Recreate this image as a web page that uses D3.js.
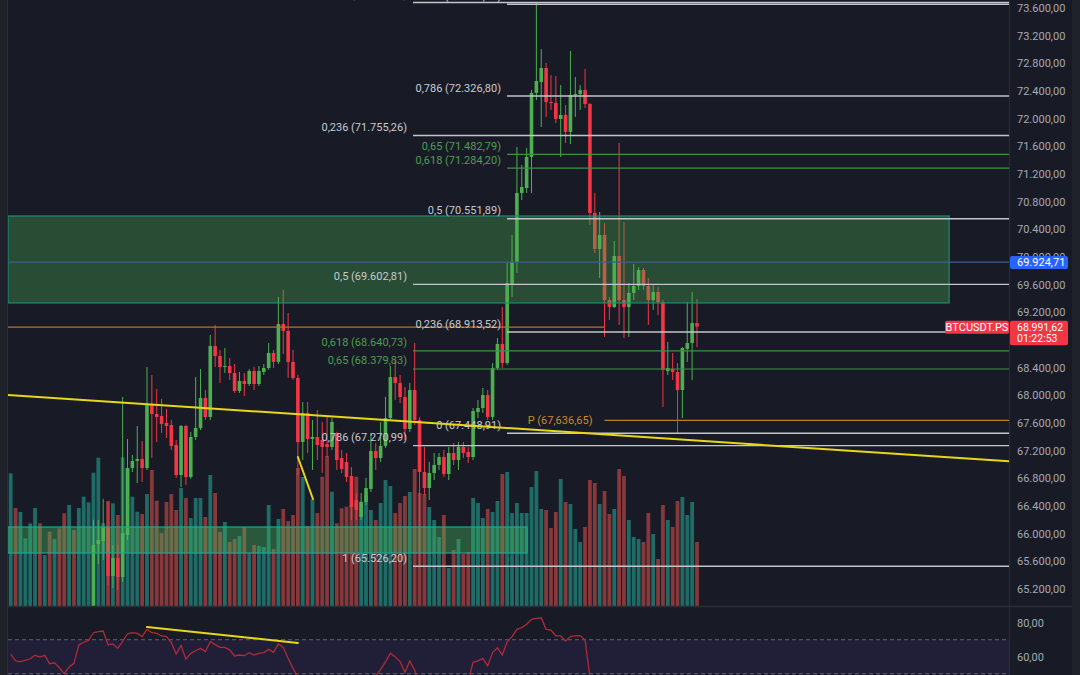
<!DOCTYPE html>
<html><head><meta charset="utf-8">
<script src="https://cdn.jsdelivr.net/npm/d3@7"></script>
<style>html,body{margin:0;padding:0;background:#181b26;overflow:hidden}svg{display:block}text{font-family:Roboto,"Noto Sans",sans-serif}</style>
</head><body><svg id="c" width="1080" height="675"></svg>
<script>
// ---------------- DATA ----------------
const opens = [64420,64480,64380,64440,64490,64540,64610,64520,64570,64410,64450,64320,64150,64300,64220,64680,64820,64940,65848,65891,
66094,65385,65646,65371,65978,66947,67049,67078,66947,67858,67728,67699,67598,67569,67280,66846,67555,66817,67396,67526,
67960,67685,68712,68567,68408,68422,68321,68061,68206,68162,68350,68162,68336,68394,68611,68481,69030,68929,68481,68249,
67323,67743,67367,67396,67352,67294,67251,67450,67092,67034,66832,66484,66239,66456,66644,67193,67092,67266,67670,68263,
68177,67974,67511,68075,67642,66889,66658,66875,66991,67106,66861,67164,67063,67251,67179,67106,67757,67815,68003,67685,
68394,68741,68466,69594,69927,70925,70997,71445,72371,72530,72732,72240,72226,71995,72053,71807,72342,72356,72414,72212,
70635,70115,70317,69377,69276,70013,69377,69276,69479,69580,69811,69580,69377,69493,69348,68350,68379,68336,68075,68669,
68755,69044];
const highs = [64520,64500,64470,64520,64560,64640,64630,64600,64580,64480,64460,64340,64330,64320,64720,64880,64940,66200,66195,66499,
66456,65834,65834,67974,67367,67135,67555,67338,68408,68292,68090,67945,67801,67642,67352,67569,67569,67468,68263,68379,
68075,68871,69016,68654,68683,68538,68451,68336,68321,68379,68408,68422,68451,68755,68654,69420,69522,69189,68654,68292,
67902,67902,67642,67786,67613,67685,67671,67470,67208,67164,66962,66586,66586,66803,67454,67309,67613,67974,68423,68509,
68292,68119,68177,68755,67685,67251,67034,67164,67164,67208,67251,67309,67323,67323,67251,67815,67931,68104,68075,68466,
68827,69276,69912,70317,71590,71330,71575,72414,73679.4,73007,72805,72631,72617,72486,72197,72978,72602,72486,72718,72226,
70925,70650,70491,69420,70230,71648,70505,69623,69898,69854,69840,69695,69594,69565,69377,68770,68611,68466,68697,69348,
69493,69392];
const lows = [64350,64330,64350,64400,64450,64500,64480,64490,64380,64370,64290,64100,64120,64180,64200,64640,64780,64900,65559,65617,
65255,65212,65183,65298,65906,66889,66730,66745,66918,67092,67323,67454,67381,67208,66803,66672,66701,66788,67352,67497,
67642,67642,68408,68177,68321,68220,68032,68032,67989,68133,68075,68133,68292,68365,68394,68451,68596,68249,68220,66846,
67063,67164,66918,67063,66875,67106,67208,66918,66875,66745,66195,66195,66195,66412,66600,66918,67034,67237,67642,67931,
67887,67352,67468,67569,65526.2,66557,66484,66774,66918,66817,66774,66991,66918,67092,67020,67063,67670,67743,67642,67642,
68365,68394,68437,69420,69767,70823,70925,70925,72269,71879,72024,72125,71937,71445,71648,71633,72024,72125,72154,70462,
70057,69695,68842,69088,69261,69015,68827,68842,69377,69522,69522,69015,69233,69160,67829,68292,68220,67454,67670,68481,
68220,68697];
const closes = [64480,64380,64440,64490,64540,64610,64520,64570,64410,64450,64320,64150,64300,64220,64680,64820,64930,65834,65906,66094,
65385,65646,65371,66007,66947,67049,67078,66947,67858,67728,67685,67584,67555,67266,66846,67555,66817,67396,67526,67960,
67685,68712,68567,68408,68422,68321,68061,68206,68162,68350,68162,68350,68394,68611,68481,69030,68929,68481,68249,67323,
67743,67367,67396,67280,67251,67251,67613,67063,66933,66817,66383,66340,66456,66658,67193,67092,67266,67670,68263,68177,
67974,67511,68075,67642,66889,66658,66875,66991,67106,66861,67164,67063,67251,67164,67106,67772,67815,68003,67685,68394,
68741,68466,69622,69927,70925,71011,71445,72371,72544,72732,72240,72226,71995,72053,71807,72342,72356,72414,72212,70635,
70115,70317,69377,69276,70013,69377,69276,69479,69580,69811,69580,69377,69493,69348,68365,68394,68336,68075,68683,68755,
69044,68991.62];
const volumes = [1327,980,940,677,827,980,827,510,743,670,777,927,1010,760,980,1093,1037,1333,1483,827,
1050,1027,910,1487,1377,1093,943,920,1120,1360,1053,730,1040,1120,960,1180,1080,880,1080,1080,
890,1310,1130,740,840,640,670,700,790,530,610,600,590,1010,570,870,970,850,910,1380,
1290,800,1067,930,1293,1500,1143,827,977,993,1010,1293,1043,1110,960,860,1030,1260,1200,930,
1030,1100,1140,1370,1130,1120,990,860,690,910,380,560,670,520,540,1080,1030,880,970,940,
1050,1320,1340,930,1030,930,930,1190,1350,970,960,780,940,1270,1040,1020,770,640,790,1260,
1230,1020,1150,920,970,1370,1300,860,690,670,640,930,720,470,1010,860,790,1050,1090,910,
1040,640];
const rsi = [61.5,57.5,57.1,57.8,58.8,60.8,59.8,60.8,55.9,56.4,
53.6,50.0,54.0,56.1,67.0,68.5,69.6,74.1,74.7,75.1,
67.0,67.5,64.9,69.0,73.5,74.1,73.7,71.8,76.1,74.1,
73.7,72.2,71.8,68.3,61.6,66.5,58.5,62.0,63.5,64.9,
63.0,68.8,67.1,65.5,65.5,63.9,60.4,61.0,60.6,62.4,
61.0,62.0,62.4,64.3,62.6,67.5,65.5,59.0,53.2,47.5,
46.5,42.0,43.0,41.0,40.0,40.0,44.0,40.0,37.0,35.0,
31.0,30.0,34.0,37.0,44.0,48.5,52.5,57.0,62.0,60.0,
57.1,50.8,57.5,52.0,42.0,41.0,43.0,44.0,45.0,43.0,
46.0,45.0,47.0,46.0,45.5,56.7,57.5,59.0,54.7,62.4,
65.3,61.0,68.8,71.8,76.1,77.1,79.1,82.0,82.6,82.9,
76.1,75.7,72.2,72.2,69.2,71.8,72.2,72.4,69.8,48.0,
42.0,44.0,38.0,37.0,44.0,38.0,37.5,40.0,41.0,43.0,
40.5,38.0,39.5,37.5,30.0,31.0,30.5,28.0,36.0,37.0,
41.0,40.0];
const priceTicks = [73600,73200,72800,72400,72000,71600,71200,70800,70400,70000,69600,69200,68800,68400,68000,67600,67200,66800,66400,66000,65600,65200];
const rsiTicks = [80,60];
const rsiBands = [70,50];
// Fibonacci drawings (ratio label, price) and their start candle
const fib1Ratios = ["0","0,236","0,5","0,618","0,65","0,786","1"];
const fib1Prices = [73679.40,71755.26,69602.81,68640.73,68379.83,67270.99,65526.20];
const fib1Start = 82.66;
const fib2Ratios = ["1","0,786","0,65","0,618","0,5","0,236","0"];
const fib2Prices = [73654.87,72326.80,71482.79,71284.20,70551.89,68913.52,67448.91];
const fib2Start = 101.97;
const greenRatios = ["0,618","0,65"];
// other drawings
const zoneUpper = {top:70592, bottom:69334, end:192.8};
const zoneLower = {top:66094, bottom:65718, end:106.1};
const blueLevel = 69924.71;
const orangeLevel = {price:68985, end:122};
const pivotLevel = {price:67636.65, start:122, label:"P (67,636,65)"};
const trendMain = [[0,68000],[141,67343]];
const trendSmall = [[59,67106],[62.1,66499]];
const trendRsi = [[28,77.5],[59,68.1]];
const symbol = "BTCUSDT.PS";
const lastPrice = 68991.62;
const countdown = "01:22:53";

// ---------------- LAYOUT ----------------
const W=1080,H=675, PL=8, PR=1009, MT=0, MB=606, RT=607, RB=675, AX=1072;
const svg = d3.select("#c");
const loc = d3.formatLocale({decimal:",",thousands:".",grouping:[3],currency:["",""]});
const fmt = loc.format(",.2f");

const x = d3.scaleLinear().domain([0,141]).range([10.7,697]);
const y = d3.scaleLinear().domain([65200,73600]).range([588.8,8]);
const yVol = d3.scaleLinear().domain([0,d3.max(volumes)]).range([MB,456]);
const yRsi = d3.scaleLinear().domain([60,80]).range([656.7,622.7]);

// backgrounds
svg.append("rect").attr("width",W).attr("height",H).attr("fill","#181b26");
svg.append("rect").attr("x",0).attr("y",0).attr("width",PL).attr("height",H).attr("fill","#1f222b");
svg.append("rect").attr("x",AX).attr("y",0).attr("width",W-AX).attr("height",H).attr("fill","#1f222b");

const defs = svg.append("defs");
defs.append("clipPath").attr("id","cm").append("rect").attr("x",PL).attr("y",MT).attr("width",PR-PL).attr("height",MB-MT);
defs.append("clipPath").attr("id","cr").append("rect").attr("x",PL).attr("y",RT).attr("width",PR-PL).attr("height",RB-RT);

const main = svg.append("g").attr("clip-path","url(#cm)");
const idx = d3.range(closes.length);
const up = i => closes[i] >= opens[i];

// volume
main.append("g").selectAll("rect").data(idx).join("rect")
  .attr("x",i=>x(i)-1.9).attr("width",3.8)
  .attr("y",i=>yVol(volumes[i])).attr("height",i=>MB-yVol(volumes[i]))
  .attr("fill",i=>up(i)?"#1f6b66":"#86383b");

// candles
const cg = main.append("g");
cg.selectAll("line").data(idx).join("line")
  .attr("x1",i=>x(i)).attr("x2",i=>x(i))
  .attr("y1",i=>y(highs[i])).attr("y2",i=>y(lows[i]))
  .attr("stroke",i=>up(i)?"#4caf50":"#f23645").attr("stroke-width",1);
cg.selectAll("rect").data(idx).join("rect")
  .attr("x",i=>x(i)-1.8).attr("width",3.6)
  .attr("y",i=>y(Math.max(opens[i],closes[i])))
  .attr("height",i=>Math.max(1,Math.abs(y(opens[i])-y(closes[i]))))
  .attr("fill",i=>up(i)?"#4caf50":"#f23645");

// zones
function zone(z, fill, stroke){
  main.append("rect").attr("x",PL).attr("y",y(z.top)).attr("width",x(z.end)-PL)
   .attr("height",y(z.bottom)-y(z.top)).attr("fill",fill).attr("stroke",stroke).attr("stroke-width",1.2);
}
zone(zoneUpper,"rgba(76,175,80,0.34)","#1c8a74");
zone(zoneLower,"rgba(70,190,100,0.38)","#23a58f");

// horizontal lines
function hline(p, x1, x2, color, w){
  main.append("line").attr("x1",x1).attr("x2",x2).attr("y1",y(p)).attr("y2",y(p))
    .attr("stroke",color).attr("stroke-width",w);
}
hline(blueLevel, PL, PR, "#3a5f92", 1.2);
hline(orangeLevel.price, PL, x(orangeLevel.end), "#b8702c", 1.2);
hline(pivotLevel.price, x(pivotLevel.start), PR, "#c07a22", 1.2);
main.append("text").attr("x",x(pivotLevel.start)-12).attr("y",y(pivotLevel.price)).attr("dy","0.35em")
  .attr("text-anchor","end").attr("font-size",11).attr("fill","#c98a2c").text(pivotLevel.label);

function fib(ratios, prices, start){
  const sx = x(start);
  ratios.forEach((r,k)=>{
    const green = greenRatios.includes(r);
    hline(prices[k], sx, PR, green?"#3f8f44":"#c3c5cb", green?1.1:1.4);
    main.append("text").attr("x",sx-6).attr("y",y(prices[k])-4.5)
      .attr("text-anchor","end").attr("font-size",11)
      .attr("fill",green?"#4e9e52":"#c8cad0").text(r+" ("+fmt(prices[k])+")");
  });
}
fib(fib1Ratios, fib1Prices, fib1Start);
fib(fib2Ratios, fib2Prices, fib2Start);

// trend lines
function extLine(g, pts, sx, sy, xa, xb, color, w){
  const [[i1,v1],[i2,v2]] = pts;
  const ia = xa===null? i1 : sx.invert(xa), ib = xb===null? i2 : sx.invert(xb);
  const f = i => v1 + (v2-v1)*(i-i1)/(i2-i1);
  g.append("line").attr("x1",sx(ia)).attr("x2",sx(ib)).attr("y1",sy(f(ia))).attr("y2",sy(f(ib)))
    .attr("stroke",color).attr("stroke-width",w).attr("stroke-linecap","round");
}
extLine(main, trendMain, x, y, PL, PR, "#e6d71a", 2);
extLine(main, trendSmall, x, y, null, null, "#e6d71a", 2);

// symbol label
const ly = y(lastPrice);
main.append("rect").attr("x",945).attr("y",ly-6).attr("width",PR-945).attr("height",13).attr("rx",2).attr("fill","#f23645");
main.append("text").attr("x",(945+PR)/2).attr("y",ly+0.5).attr("dy","0.35em").attr("text-anchor","middle")
  .attr("font-size",11).attr("fill","#ffffff").text(symbol);

// ---------------- RSI PANE ----------------
svg.append("rect").attr("x",PL).attr("y",yRsi(rsiBands[0])).attr("width",PR-PL).attr("height",RB-yRsi(rsiBands[0])).attr("fill","#211f38");
const rp = svg.append("g").attr("clip-path","url(#cr)");
rsiBands.forEach(b=>{
  rp.append("line").attr("x1",PL).attr("x2",PR).attr("y1",yRsi(b)).attr("y2",yRsi(b))
    .attr("stroke","#5d606b").attr("stroke-width",1).attr("stroke-dasharray","4,3");
});
rp.append("path").datum(idx).attr("fill","none").attr("stroke","#b02a37").attr("stroke-width",1.3)
  .attr("d",d3.line().x(i=>x(i)).y(i=>yRsi(rsi[i])));
extLine(rp, trendRsi, x, yRsi, null, null, "#e6d71a", 2);

// ---------------- BORDERS ----------------
svg.append("line").attr("x1",PL).attr("x2",AX).attr("y1",606.5).attr("y2",606.5).attr("stroke","#2a2e39").attr("stroke-width",1.5);
svg.append("line").attr("x1",PR+0.5).attr("x2",PR+0.5).attr("y1",0).attr("y2",H).attr("stroke","#2a2e39").attr("stroke-width",1);
svg.append("line").attr("x1",PL-0.5).attr("x2",PL-0.5).attr("y1",0).attr("y2",H).attr("stroke","#2a2e39").attr("stroke-width",1);

// ---------------- AXES ----------------
// tick labels fully covered by the last-price tag are hidden, as on the original
const boxTop = ly-6, boxBot = ly+18.5;
const shownTicks = priceTicks.filter(t => y(t) < boxTop-2 || y(t) > boxBot+2);
const ax = svg.append("g").attr("transform",`translate(${PR},0)`)
  .call(d3.axisRight(y).tickValues(shownTicks).tickFormat(fmt).tickSize(0).tickPadding(8));
ax.select(".domain").remove();
ax.selectAll("text").attr("font-size",11).attr("fill","#a6a9b2").attr("font-family","Roboto, sans-serif");
const ax2 = svg.append("g").attr("transform",`translate(${PR},0)`)
  .call(d3.axisRight(yRsi).tickValues(rsiTicks).tickFormat(fmt).tickSize(0).tickPadding(8));
ax2.select(".domain").remove();
ax2.selectAll("text").attr("font-size",11).attr("fill","#a6a9b2").attr("font-family","Roboto, sans-serif");

// price tags
const by = y(blueLevel);
svg.append("rect").attr("x",PR+1).attr("y",by-6.2).attr("width",58).attr("height",13).attr("rx",2).attr("fill","#2962ff");
svg.append("text").attr("x",PR+8).attr("y",by+0.5).attr("dy","0.35em").attr("font-size",11).attr("fill","#ffffff").text(fmt(blueLevel));
svg.append("rect").attr("x",PR+1).attr("y",boxTop).attr("width",58).attr("height",boxBot-boxTop).attr("rx",2).attr("fill","#f23645");
svg.append("text").attr("x",PR+8).attr("y",ly+0.8).attr("dy","0.35em").attr("font-size",10.5).attr("fill","#ffffff").text(fmt(lastPrice));
svg.append("text").attr("x",PR+8).attr("y",ly+12).attr("dy","0.35em").attr("font-size",10.5).attr("fill","#ffffff").text(countdown);
</script></body></html>
